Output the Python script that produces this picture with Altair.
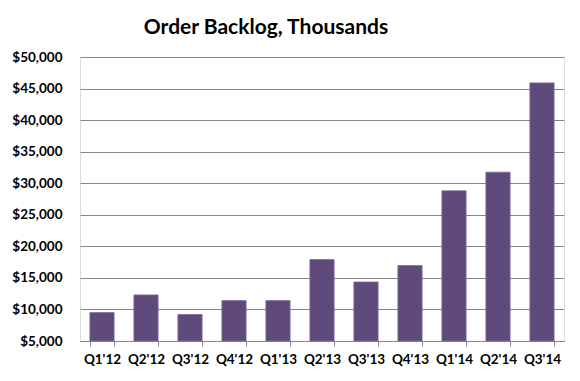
import altair as alt
import pandas as pd

quarters = ["Q1'12", "Q2'12", "Q3'12", "Q4'12", "Q1'13", "Q2'13",
            "Q3'13", "Q4'13", "Q1'14", "Q2'14", "Q3'14"]
backlog = [9500, 12300, 9200, 11400, 11400, 17900,
           14350, 16950, 28800, 31750, 45900]

df = pd.DataFrame({"quarter": quarters, "backlog": backlog})

FONT = "Lato"

bars = alt.Chart(df).mark_bar(
    color="#604A7B", stroke="#7E6A99", strokeWidth=0.8
).encode(
    x=alt.X("quarter:N", sort=quarters, title=None,
            scale=alt.Scale(paddingInner=0.45, paddingOuter=0.225),
            axis=alt.Axis(labelAngle=0, tickBand="extent", labelFont=FONT,
                          labelFontWeight="bold", labelFontSize=13.5,
                          labelColor="#000000", domainColor="#868686",
                          tickColor="#868686", tickSize=5, labelPadding=6,
                          grid=False)),
    y=alt.Y("backlog:Q", title=None,
            scale=alt.Scale(domain=[5000, 50000], zero=False, nice=False),
            axis=alt.Axis(values=list(range(5000, 50001, 5000)), format="$,d",
                          domain=False, ticks=False, labelFont=FONT,
                          labelFontWeight="bold", labelFontSize=13.5,
                          labelColor="#000000", labelPadding=18,
                          gridColor="#868686", gridWidth=1)),
    y2=alt.datum(5000),
)

chart = bars.properties(
    width=484, height=284,
    autosize=alt.AutoSizeParams(type="none"),
    padding={"left": 72, "top": 49, "right": 8, "bottom": 30},
    title=alt.TitleParams("Order Backlog, Thousands", font=FONT, fontSize=21,
                          fontWeight="bold", color="#000000", dx=-56,
                          offset=12),
).configure_view(stroke=None).configure(background="#ffffff")

chart.save("out.html", embed_options={"renderer": "svg", "actions": False})
